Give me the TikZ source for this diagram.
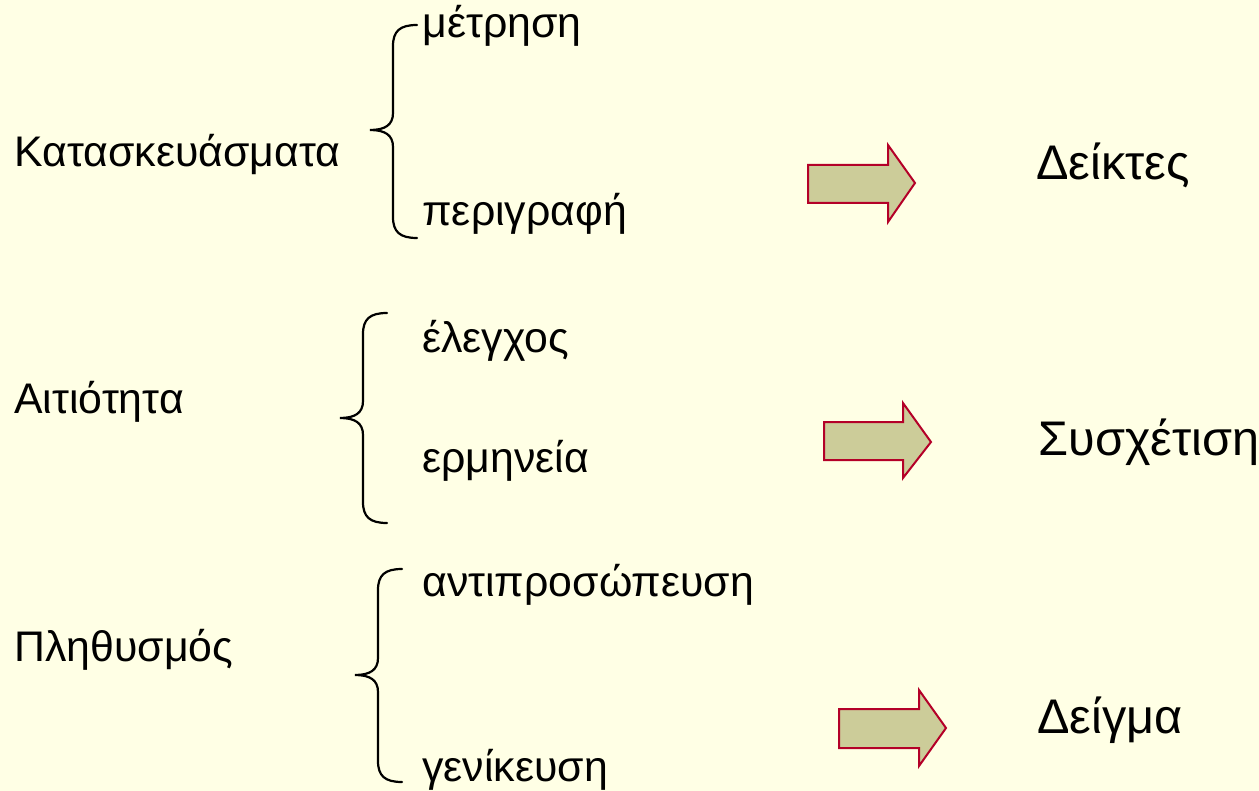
\documentclass[tikz,border=0pt]{standalone}
\usepackage{fontspec}
\setmainfont{Liberation Sans}
\usepackage{xcolor}

\definecolor{paper}{RGB}{255,255,229}
\definecolor{arrowfill}{RGB}{204,204,153}
\definecolor{arrowline}{RGB}{180,0,40}

\tikzset{
  term/.style={anchor=base west,inner sep=0pt,font=\fontsize{21.4}{25}\selectfont},
  result/.style={anchor=base west,inner sep=0pt,font=\fontsize{24.3}{28}\selectfont},
  bracket/.style={line width=1.1pt,line cap=round},
  blockarrow/.style={fill=arrowfill,draw=arrowline,line width=1pt,line join=miter}
}

\begin{document}
\begin{tikzpicture}[x=0.5pt,y=-0.5pt]

\fill[paper] (0,0) rectangle (1259,791);
\useasboundingbox (0,0) rectangle (1259,791);

% first row
\node[term] (kat) at (14,167) {Κατασκευάσματα};
\node[term] (metr) at (422,38) {μέτρηση};
\node[term] (perig) at (422,226) {περιγραφή};
\node[result] (deik) at (1036,180) {Δείκτες};
\draw[bracket] (417,25) .. controls (400,25) and (393,31) .. (393,46) -- (393,113)
  .. controls (393,125) and (385,130) .. (370,130)
  .. controls (385,130) and (393,135) .. (393,147) -- (393,217)
  .. controls (393,232) and (400,238) .. (417,238);
\draw[blockarrow] (808,165) -- (888,165) -- (888,145) -- (915,183)
  -- (888,222) -- (888,203) -- (808,203) -- cycle;

% second row
\node[term] (ait) at (14,414) {Αιτιότητα};
\node[term] (eleg) at (422,352) {έλεγχος};
\node[term] (erm) at (422,472) {ερμηνεία};
\node[result] (sys) at (1038,455) {Συσχέτιση};
\draw[bracket] (387,313) .. controls (370,313) and (363,319) .. (363,334) -- (363,401)
  .. controls (363,413) and (355,418) .. (340,418)
  .. controls (355,418) and (363,423) .. (363,435) -- (363,502)
  .. controls (363,517) and (370,523) .. (387,523);
\draw[blockarrow] (824,422) -- (903,422) -- (903,403) -- (931,442)
  -- (903,478) -- (903,460) -- (824,460) -- cycle;

% third row
\node[term] (plith) at (14,661) {Πληθυσμός};
\node[term] (antipr) at (422,596) {αντιπροσώπευση};
\node[term] (gen) at (422,781) {γενίκευση};
\node[result] (deig) at (1037,733) {Δείγμα};
\draw[bracket] (402,569) .. controls (385,569) and (378,575) .. (378,590) -- (378,658)
  .. controls (378,670) and (370,675) .. (355,675)
  .. controls (370,675) and (378,680) .. (378,692) -- (378,761)
  .. controls (378,776) and (385,782) .. (402,782);
\draw[blockarrow] (839,709) -- (919,709) -- (919,690) -- (946,728)
  -- (919,766) -- (919,748) -- (839,748) -- cycle;

\end{tikzpicture}
\end{document}
